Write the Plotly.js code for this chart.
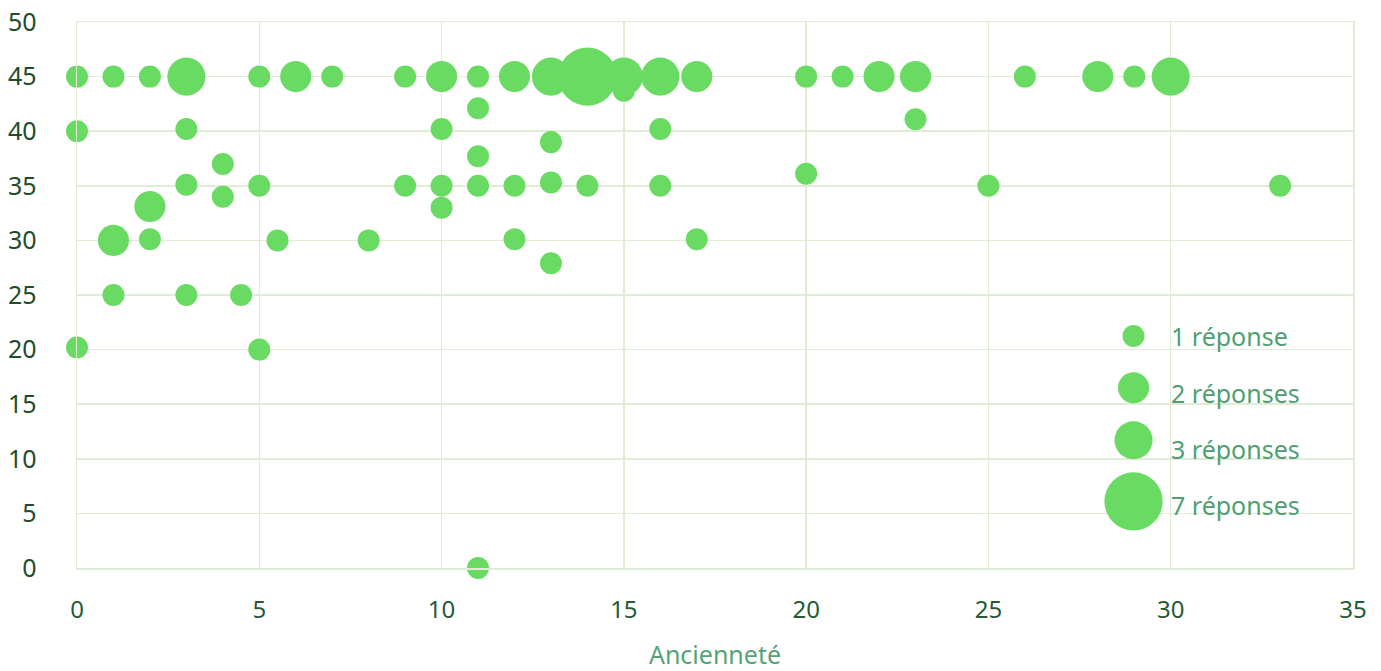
<!DOCTYPE html>
<html>
<head>
<meta charset="utf-8">
<script src="https://cdn.plot.ly/plotly-3.0.1.min.js"></script>
<style>html,body{margin:0;padding:0;background:#fff;}#chart{width:1381px;height:671px;}</style>
</head>
<body>
<div id="chart"></div>
<script>
// Ancienneté (years)
const anciennete = [0,0,0, 1,1,1, 2,2,2, 3,3,3,3, 4,4, 4.5, 5,5,5, 5.5, 6, 7, 8, 9,9,
  10,10,10,10, 11,11,11,11,11, 12,12,12, 13,13,13,13, 14,14, 15,15, 16,16,16, 17,17,
  20,20, 21, 22, 23,23, 25, 26, 28, 29, 30, 33];
// second variable (y)
const valeurs = [45,40,20.2, 45,30,25, 45,33.1,30.1, 45,40.2,35.1,25, 37,34, 25, 45,35,20, 30, 45, 45, 30, 45,35,
  45,40.2,35,33, 45,42.1,37.7,35,0, 45,35,30.1, 45,39,35.3,27.9, 45,35, 45,43.7, 45,40.2,35, 45,30.1,
  45,36.1, 45, 45, 45,41.1, 35, 45, 45, 45, 45, 35];
// number of responses at each point
const reponses = [1,1,1, 1,2,1, 1,2,1, 3,1,1,1, 1,1, 1, 1,1,1, 1, 2, 1, 1, 1,1,
  2,1,1,1, 1,1,1,1,1, 2,1,1, 3,1,1,1, 7,1, 3,1, 3,1,1, 2,1,
  1,1, 1, 2, 2,1, 1, 1, 2, 1, 3, 1];

const legendCounts = [1, 2, 3, 7];
const legendLabels = ["1 réponse", "2 réponses", "3 réponses", "7 réponses"];
const xTitle = "Ancienneté";

// styling / layout constants
const GREEN = '#6adb62';
const SIZEREF = 0.5 / 121;
const FONT = '"Noto Sans", sans-serif';
const legendMarkerX = 0.828;
const legendMarkerY = [0.425, 0.330, 0.234, 0.122];
const legendTextX = 0.8555;
const legendTextY = [0.425, 0.321, 0.218, 0.116];

const dataTrace = {
  type: 'scatter', mode: 'markers',
  x: anciennete, y: valeurs,
  cliponaxis: false,
  hoverinfo: 'x+y+text', text: reponses.map(String),
  marker: { size: reponses, sizemode: 'area', sizeref: SIZEREF, color: GREEN, opacity: 1, line: {width: 0} },
  showlegend: false
};

const legendTrace = {
  type: 'scatter', mode: 'markers',
  x: legendCounts.map(() => legendMarkerX), y: legendMarkerY,
  xaxis: 'x2', yaxis: 'y2',
  cliponaxis: false, hoverinfo: 'skip',
  marker: { size: legendCounts, sizemode: 'area', sizeref: SIZEREF, color: GREEN, opacity: 1, line: {width: 0} },
  showlegend: false
};

const annotations = legendLabels.map((t, i) => ({
  xref: 'paper', yref: 'paper', x: legendTextX, y: legendTextY[i],
  xanchor: 'left', yanchor: 'middle', text: t, showarrow: false,
  font: { family: FONT, size: 25, color: '#4f9f70' }
}));

const gridColor = '#e1ecd7';
const layout = {
  width: 1381, height: 671,
  margin: { l: 77, r: 28, t: 22, b: 103 },
  paper_bgcolor: '#fff', plot_bgcolor: '#fff',
  font: { family: FONT },
  xaxis: {
    range: [0, 35], dtick: 5, tick0: 0,
    showgrid: true, gridcolor: gridColor, gridwidth: 1.5,
    zeroline: true, zerolinecolor: gridColor, zerolinewidth: 1.5,
    showline: true, linecolor: gridColor, linewidth: 1.5, mirror: true,
    ticks: 'outside', ticklen: 20, tickcolor: 'rgba(0,0,0,0)',
    tickfont: { family: FONT, size: 24, color: '#245a34' },
    title: { text: xTitle, font: { family: FONT, size: 25, color: '#55a377' }, standoff: 29 }
  },
  yaxis: {
    range: [0, 50], dtick: 5, tick0: 0,
    showgrid: true, gridcolor: gridColor, gridwidth: 1.5,
    zeroline: true, zerolinecolor: gridColor, zerolinewidth: 1.5,
    showline: true, linecolor: gridColor, linewidth: 1.5, mirror: true,
    ticks: 'outside', ticklen: 34, tickcolor: 'rgba(0,0,0,0)',
    tickfont: { family: FONT, size: 25, color: '#1f4d2c' }
  },
  xaxis2: { overlaying: 'x', range: [0, 1], visible: false, fixedrange: true },
  yaxis2: { overlaying: 'y', range: [0, 1], visible: false, fixedrange: true },
  annotations: annotations,
  showlegend: false
};

Plotly.newPlot('chart', [dataTrace, legendTrace], layout, { displayModeBar: false, staticPlot: true });
</script>
</body>
</html>
